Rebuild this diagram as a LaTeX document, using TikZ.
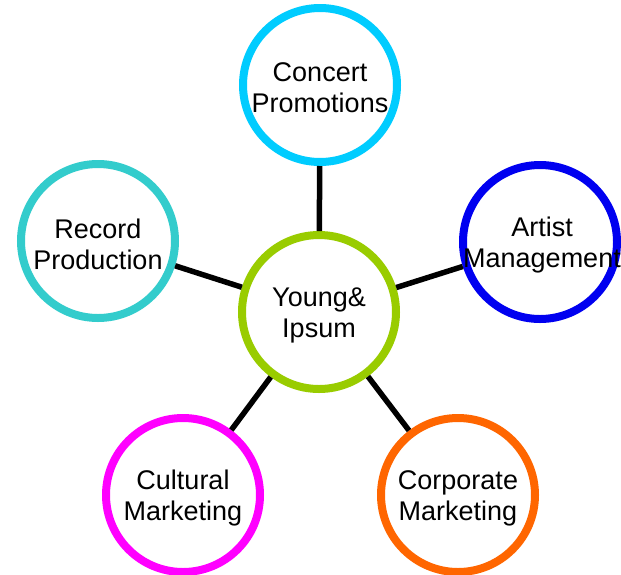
\documentclass[tikz,border=0pt]{standalone}
\usepackage{fontspec}
\setmainfont{Liberation Sans}
\definecolor{cconcert}{RGB}{0,204,255}
\definecolor{cartist}{RGB}{0,0,240}
\definecolor{crecord}{RGB}{51,204,204}
\definecolor{ccultural}{RGB}{255,0,255}
\definecolor{ccorporate}{RGB}{255,102,0}
\definecolor{ccenter}{RGB}{153,204,0}
\begin{document}
\begin{tikzpicture}[x=1pt,y=-1pt,
  bub/.style={circle, draw=#1, line width=8pt, fill=white, minimum size=154pt, inner sep=0pt},
  lab/.style={align=center, inner sep=0pt, font=\fontsize{27}{31}\selectfont},
  conn/.style={line width=5.5pt, draw=black}]
\useasboundingbox (0,0) rectangle (621,574);
\node[bub=ccenter] (c) at (319,312) {};
\node[bub=cconcert] (cp) at (320,85) {};
\node[bub=cartist] (am) at (540,242) {};
\node[bub=crecord] (rp) at (98,241) {};
\node[bub=ccultural] (cm) at (183,495) {};
\node[bub=ccorporate] (co) at (458,495) {};
\draw[conn] (c) -- (cp);
\draw[conn] (c) -- (am);
\draw[conn] (c) -- (rp);
\draw[conn] (c) -- (cm);
\draw[conn] (c) -- (co);
\node[lab] (tc) at ([yshift=-3pt]c.center) {Young\&\\Ipsum};
\node[lab] (tcp) at ([yshift=-3pt]cp.center) {Concert\\Promotions};
\node[lab] (tam) at ([xshift=2pt,yshift=-3pt]am.center) {Artist\\Management};
\node[lab] (trp) at ([yshift=-3pt]rp.center) {Record\\Production};
\node[lab] (tcm) at ([yshift=-3pt]cm.center) {Cultural\\Marketing};
\node[lab] (tco) at ([yshift=-3pt]co.center) {Corporate\\Marketing};
\end{tikzpicture}
\end{document}
